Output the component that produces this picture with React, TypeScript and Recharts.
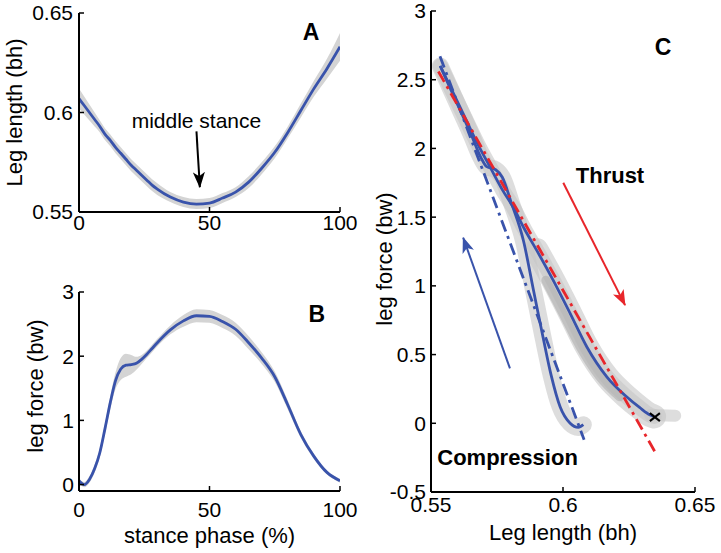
import React from "react";
import { ComposedChart, Line, Area, XAxis, YAxis, ReferenceLine, ReferenceDot } from "recharts";

// panels A and B share the stance-phase grid (%)
const phase = [0, 2, 4, 6, 8, 10, 12, 14, 16, 18, 20, 22, 24, 26, 28, 30, 35, 40, 45, 50, 55, 60, 65, 70, 75, 80, 85, 90, 95, 100];
const legLength = [0.607, 0.6035, 0.6, 0.5965, 0.593, 0.589, 0.586, 0.5825, 0.5795, 0.5765, 0.5735, 0.571, 0.5685, 0.566, 0.5635, 0.5615, 0.5575, 0.555, 0.554, 0.5545, 0.557, 0.56, 0.565, 0.572, 0.58, 0.59, 0.601, 0.612, 0.622, 0.633];
const legLengthSd = [0.005, 0.0045, 0.004, 0.0035, 0.003, 0.003, 0.003, 0.003, 0.003, 0.003, 0.003, 0.003, 0.003, 0.003, 0.003, 0.003, 0.0025, 0.0025, 0.0025, 0.0025, 0.0025, 0.0025, 0.003, 0.003, 0.003, 0.003, 0.0035, 0.004, 0.005, 0.007];
const legForce = [0.06, 0.0, 0.08, 0.25, 0.5, 0.88, 1.28, 1.62, 1.8, 1.86, 1.87, 1.89, 1.95, 2.03, 2.12, 2.21, 2.41, 2.55, 2.63, 2.62, 2.54, 2.42, 2.21, 1.97, 1.68, 1.24, 0.78, 0.44, 0.19, 0.06];
const legForceSd = [0.04, 0.04, 0.05, 0.06, 0.07, 0.08, 0.1, 0.13, 0.17, 0.18, 0.15, 0.1, 0.07, 0.06, 0.06, 0.06, 0.07, 0.09, 0.1, 0.1, 0.1, 0.1, 0.1, 0.09, 0.08, 0.07, 0.05, 0.04, 0.03, 0.03];

// panel C: force-length loop
const compLength = [0.5535, 0.557, 0.561, 0.565, 0.569, 0.5711, 0.5745, 0.577, 0.5805, 0.585, 0.5888, 0.5925, 0.5955, 0.5989, 0.6027, 0.6058, 0.6077];
const compForce = [2.6, 2.45, 2.28, 2.11, 1.93, 1.867, 1.845, 1.79, 1.6, 1.33, 0.97, 0.62, 0.35, 0.12, 0.0, -0.03, -0.01];
const thrustLength = [0.5535, 0.558, 0.563, 0.568, 0.5725, 0.577, 0.5812, 0.5855, 0.59, 0.5963, 0.6027, 0.609, 0.6166, 0.6241, 0.629, 0.633, 0.6345];
const thrustForce = [2.6, 2.42, 2.22, 2.02, 1.86, 1.7, 1.57, 1.41, 1.26, 1.04, 0.8, 0.557, 0.338, 0.193, 0.115, 0.06, 0.05];
const thrustBandTip = { L: 0.6425, F: 0.055 };
const darkBandLength = [0.5935, 0.6, 0.6065, 0.614, 0.6215];
const darkBandForce = [1.04, 0.8, 0.557, 0.338, 0.193];
const compFitLength = [0.5534, 0.608];
const compFitForce = [2.67, -0.12];
const thrustFitLength = [0.5528, 0.6352];
const thrustFitForce = [2.56, -0.22];

const BLUE = "#3953ab";
const RED = "#e8262b";
const BAND = "#d4d4d4";
const FONT = "'Liberation Sans', Arial, Helvetica, sans-serif";

const lengthRows = phase.map((p, i) => ({
  phase: p,
  value: legLength[i],
  band: [legLength[i] - legLengthSd[i], legLength[i] + legLengthSd[i]],
}));
const forceRows = phase.map((p, i) => ({
  phase: p,
  value: legForce[i],
  band: [legForce[i] - legForceSd[i], legForce[i] + legForceSd[i]],
}));
const toRows = (L: number[], F: number[]) => L.map((l, i) => ({ L: l, F: F[i] }));
const compRows = toRows(compLength, compForce);
const thrustRows = toRows(thrustLength, thrustForce);
const lowerThrustBandRows = thrustRows.filter((r) => r.F <= 1.3);
const tailBandRows = [thrustRows[thrustRows.length - 2], thrustBandTip];
const darkBandRows = toRows(darkBandLength, darkBandForce);
const compFitRows = toRows(compFitLength, compFitForce);
const thrustFitRows = toRows(thrustFitLength, thrustFitForce);

const tickStyle = { fill: "#000", fontSize: 21 };
const axisStyle = { stroke: "#000", strokeWidth: 2 };
const tickLineStyle = { stroke: "#000", strokeWidth: 1.5 };

function Head({ id, color }: { id: string; color: string }) {
  return (
    <marker id={id} viewBox="0 0 16 12" refX={15} refY={6} markerWidth={16} markerHeight={12} markerUnits="userSpaceOnUse" orient="auto">
      <path d="M0,0 L16,6 L0,12 L4,6 Z" fill={color} />
    </marker>
  );
}

const arrowShape = (id: string) => (p: any) => (
  <line x1={p.x1} y1={p.y1} x2={p.x2} y2={p.y2} stroke={p.stroke} strokeWidth={p.strokeWidth} markerEnd={`url(#${id})`} />
);

const textShape = (label: string, size: number, bold: boolean) => (p: any) => (
  <text x={p.cx} y={p.cy} textAnchor="middle" dominantBaseline="central" fontSize={size} fontWeight={bold ? 700 : 400} fill="#000" fontFamily={FONT}>
    {label}
  </text>
);

const crossShape = (p: any) => (
  <g stroke="#000" strokeWidth={2}>
    <line x1={p.cx - 5} y1={p.cy - 4} x2={p.cx + 5} y2={p.cy + 4} />
    <line x1={p.cx - 5} y1={p.cy + 4} x2={p.cx + 5} y2={p.cy - 4} />
  </g>
);

const bandProps = {
  dataKey: "F",
  type: "monotone" as const,
  stroke: "#c6c6c6",
  strokeOpacity: 0.6,
  strokeLinejoin: "round" as const,
  strokeLinecap: "round" as const,
  dot: false,
  activeDot: false,
  isAnimationActive: false,
};

function PanelA() {
  return (
    <ComposedChart width={362} height={250} data={lengthRows} margin={{ top: 13, right: 22, bottom: 8, left: 0 }}>
      <defs>
        <Head id="headBlack" color="#000" />
      </defs>
      <XAxis dataKey="phase" type="number" domain={[0, 100]} ticks={[0, 50, 100]} interval={0} height={30}
        tickSize={-5} tickMargin={8} tick={tickStyle} axisLine={axisStyle} tickLine={tickLineStyle} allowDataOverflow />
      <YAxis type="number" domain={[0.55, 0.65]} ticks={[0.55, 0.6, 0.65]} interval={0} width={79}
        tickSize={-5} tickMargin={11} tick={tickStyle} axisLine={axisStyle} tickLine={tickLineStyle} allowDataOverflow
        label={{ value: "Leg length (bh)", angle: -90, position: "center", dx: -25, fontSize: 22, fill: "#000" }} />
      <Area dataKey="band" type="monotone" stroke="none" fill={BAND} fillOpacity={1} activeDot={false} isAnimationActive={false} />
      <Line dataKey="value" type="monotone" stroke={BLUE} strokeWidth={2.8} dot={false} activeDot={false} isAnimationActive={false} />
      <ReferenceLine segment={[{ x: 45, y: 0.5905 }, { x: 46.3, y: 0.5625 }]} stroke="#000" strokeWidth={2} shape={arrowShape("headBlack")} />
      <ReferenceDot x={45} y={0.5962} shape={textShape("middle stance", 21, false)} />
      <ReferenceDot x={88.9} y={0.6405} shape={textShape("A", 23, true)} />
    </ComposedChart>
  );
}

function PanelB() {
  return (
    <ComposedChart width={362} height={283} data={forceRows} margin={{ top: 22, right: 22, bottom: 2, left: 0 }}>
      <XAxis dataKey="phase" type="number" domain={[0, 100]} ticks={[0, 50, 100]} interval={0} height={60}
        tickSize={-5} tickMargin={16} tick={tickStyle} axisLine={axisStyle} tickLine={tickLineStyle} allowDataOverflow
        label={{ value: "stance phase (%)", position: "insideBottom", offset: 8, fontSize: 22, fill: "#000" }} />
      <YAxis type="number" domain={[-0.1, 3]} ticks={[0, 1, 2, 3]} interval={0} width={79}
        tickSize={-5} tickMargin={10} tick={tickStyle} axisLine={axisStyle} tickLine={tickLineStyle} allowDataOverflow
        label={{ value: "leg force (bw)", angle: -90, position: "center", dx: -4.5, dy: -5.5, fontSize: 22, fill: "#000" }} />
      <Area dataKey="band" type="monotone" stroke="none" fill={BAND} fillOpacity={1} activeDot={false} isAnimationActive={false} />
      <Line dataKey="value" type="monotone" stroke={BLUE} strokeWidth={2.8} dot={false} activeDot={false} isAnimationActive={false} />
      <ReferenceDot x={91.1} y={2.665} shape={textShape("B", 23, true)} />
    </ComposedChart>
  );
}

function PanelC() {
  return (
    <ComposedChart width={381} height={553} margin={{ top: 11, right: 26, bottom: 1, left: 0 }}>
      <defs>
        <Head id="headBlue" color={BLUE} />
        <Head id="headRed" color={RED} />
      </defs>
      <XAxis dataKey="L" type="number" domain={[0.55, 0.65]} ticks={[0.55, 0.6, 0.65]} interval={0} height={60}
        tickSize={-5} tickMargin={10} tick={tickStyle} axisLine={axisStyle} tickLine={tickLineStyle} allowDataOverflow
        label={{ value: "Leg length (bh)", position: "insideBottom", offset: 12, fontSize: 22, fill: "#000" }} />
      <YAxis dataKey="F" type="number" domain={[-0.5, 3]} ticks={[-0.5, 0, 0.5, 1, 1.5, 2, 2.5, 3]} interval={0} width={91}
        tickSize={-5} tickMargin={10} tick={tickStyle} axisLine={axisStyle} tickLine={tickLineStyle} allowDataOverflow
        label={{ value: "leg force (bw)", angle: -90, position: "center", dx: -1, dy: 7.5, fontSize: 22, fill: "#000" }} />
      <Line data={lowerThrustBandRows} {...bandProps} strokeWidth={24} />
      <Line data={tailBandRows} {...bandProps} type="linear" strokeWidth={12} />
      <Line data={thrustRows} {...bandProps} strokeWidth={15} />
      <Line data={compRows} {...bandProps} strokeWidth={17} />
      <Line data={darkBandRows} {...bandProps} stroke="#a8a8a8" strokeOpacity={0.5} strokeWidth={9} />
      <Line data={compRows} dataKey="F" type="monotone" stroke={BLUE} strokeWidth={2.8} dot={false} activeDot={false} isAnimationActive={false} />
      <Line data={thrustRows} dataKey="F" type="monotone" stroke={BLUE} strokeWidth={2.8} dot={false} activeDot={false} isAnimationActive={false} />
      <Line data={compFitRows} dataKey="F" type="linear" stroke={BLUE} strokeWidth={2.8} strokeDasharray="12 5 3 5" dot={false} activeDot={false} isAnimationActive={false} />
      <Line data={thrustFitRows} dataKey="F" type="linear" stroke={RED} strokeWidth={2.8} strokeDasharray="12 5 3 5" dot={false} activeDot={false} isAnimationActive={false} />
      <ReferenceLine segment={[{ x: 0.5799, y: 0.4 }, { x: 0.5622, y: 1.35 }]} stroke={BLUE} strokeWidth={2} shape={arrowShape("headBlue")} />
      <ReferenceLine segment={[{ x: 0.6001, y: 1.75 }, { x: 0.6235, y: 0.86 }]} stroke={RED} strokeWidth={2} shape={arrowShape("headRed")} />
      <ReferenceDot x={0.6348} y={0.045} shape={crossShape} />
      <ReferenceDot x={0.6178} y={1.806} shape={textShape("Thrust", 22, true)} />
      <ReferenceDot x={0.579} y={-0.25} shape={textShape("Compression", 22, true)} />
      <ReferenceDot x={0.6379} y={2.74} shape={textShape("C", 23, true)} />
    </ComposedChart>
  );
}

export default function App() {
  return (
    <div style={{ position: "absolute", left: 0, top: 0, width: 721, height: 553, background: "#fff", fontFamily: FONT }}>
      <div style={{ position: "absolute", left: 0, top: 0 }}>
        <PanelA />
      </div>
      <div style={{ position: "absolute", left: 0, top: 270 }}>
        <PanelB />
      </div>
      <div style={{ position: "absolute", left: 340, top: 0 }}>
        <PanelC />
      </div>
    </div>
  );
}
